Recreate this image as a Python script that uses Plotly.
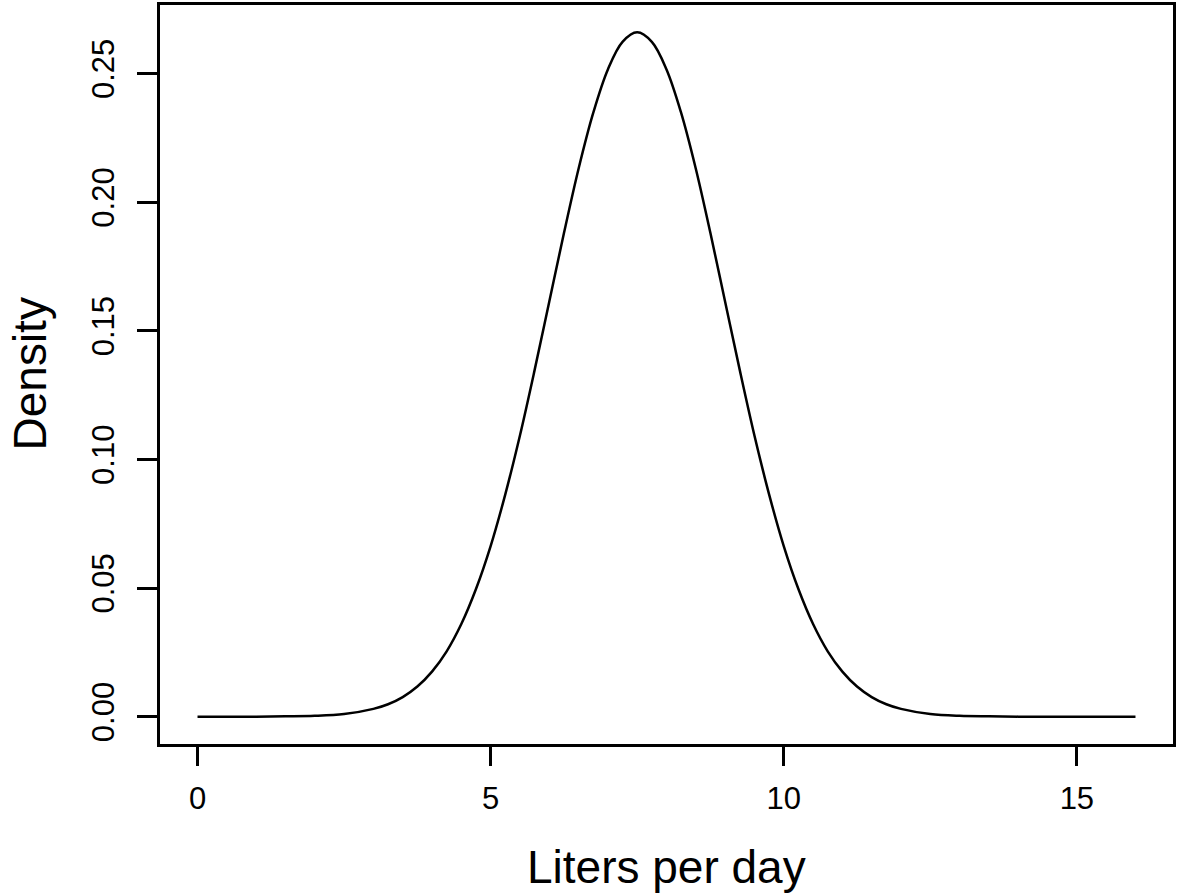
import plotly.graph_objects as go

# Density curve values (Liters per day vs Density)
liters = [0.0, 0.5, 1.0, 1.5, 2.0, 2.5, 3.0, 3.25, 3.5, 3.75, 4.0, 4.25, 4.5,
          4.75, 5.0, 5.25, 5.5, 5.75, 6.0, 6.25, 6.5, 6.75, 7.0, 7.25, 7.5,
          7.75, 8.0, 8.25, 8.5, 8.75, 9.0, 9.25, 9.5, 9.75, 10.0, 10.25, 10.5,
          10.75, 11.0, 11.25, 11.5, 11.75, 12.0, 12.5, 13.0, 13.5, 14.0, 14.5,
          15.0, 15.5, 16.0]
density = [0.0000, 0.0000, 0.0000, 0.0001, 0.0003, 0.0010, 0.0030, 0.0048,
           0.0076, 0.0117, 0.0175, 0.0254, 0.0360, 0.0496, 0.0663, 0.0864,
           0.1093, 0.1347, 0.1613, 0.1879, 0.2130, 0.2347, 0.2516, 0.2623,
           0.2660, 0.2623, 0.2516, 0.2347, 0.2130, 0.1879, 0.1613, 0.1347,
           0.1093, 0.0864, 0.0663, 0.0496, 0.0360, 0.0254, 0.0175, 0.0117,
           0.0076, 0.0048, 0.0030, 0.0010, 0.0003, 0.0001, 0.0000, 0.0000,
           0.0000, 0.0000, 0.0000]

x_ticks = [0, 5, 10, 15]
y_ticks = [0.00, 0.05, 0.10, 0.15, 0.20, 0.25]
y_tick_labels = ["0.00", "0.05", "0.10", "0.15", "0.20", "0.25"]

FONT = "Liberation Sans, Arial, sans-serif"

fig = go.Figure()
fig.add_trace(go.Scatter(x=liters, y=density, mode="lines",
                         line=dict(color="black", width=2.5, shape="spline", smoothing=1.0),
                         showlegend=False, hoverinfo="skip"))

fig.update_layout(
    width=1177, height=895,
    margin=dict(l=160, r=1, t=5, b=151),
    paper_bgcolor="white", plot_bgcolor="white",
    font=dict(family=FONT, color="black"),
    xaxis=dict(range=[-0.64, 16.64], tickvals=x_ticks, ticktext=[str(v) for v in x_ticks],
               showgrid=False, zeroline=False, showline=True, mirror=True,
               linecolor="black", linewidth=3, ticks="outside", ticklen=19,
               tickwidth=2.5, tickcolor="black", ticklabelstandoff=6,
               tickfont=dict(size=31, family=FONT, color="black")),
    yaxis=dict(range=[-0.01064, 0.27664], tickvals=y_ticks, ticktext=y_tick_labels,
               tickangle=-90,
               showgrid=False, zeroline=False, showline=True, mirror=True,
               linecolor="black", linewidth=3, ticks="outside", ticklen=20,
               tickwidth=2.5, tickcolor="black", ticklabelstandoff=11,
               tickfont=dict(size=31, family=FONT, color="black")),
    annotations=[
        dict(text="Liters per day", xref="paper", yref="paper", x=0.5, y=0,
             xanchor="center", yanchor="middle", yshift=-123, showarrow=False,
             font=dict(size=46, family=FONT, color="black")),
        dict(text="Density", xref="paper", yref="paper", x=0, y=0.5,
             xanchor="center", yanchor="middle", xshift=-131, textangle=-90,
             showarrow=False, font=dict(size=46, family=FONT, color="black")),
    ],
)

fig.write_html("out.html")
